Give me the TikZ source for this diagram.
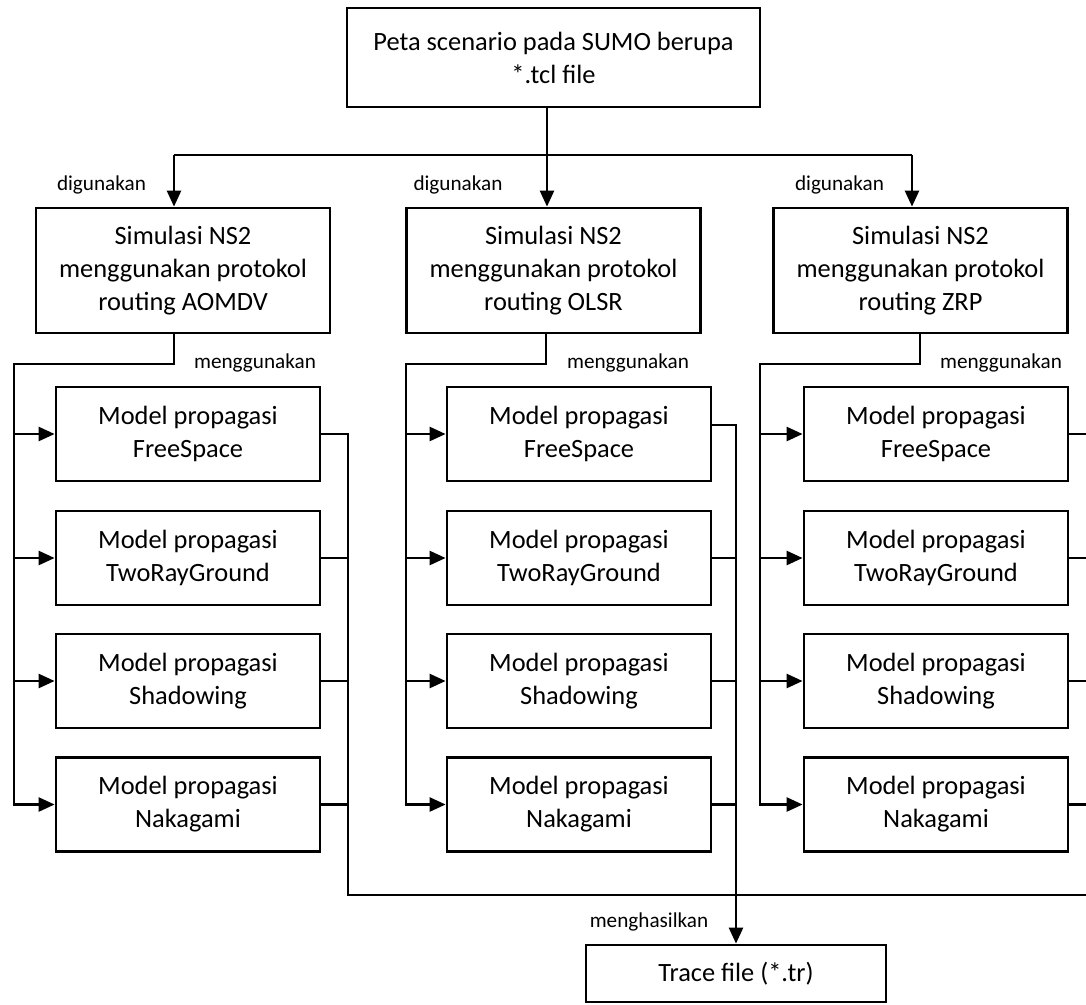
\documentclass[tikz,border=0pt]{standalone}
\usepackage{fontspec}
\setmainfont{Carlito}
\usetikzlibrary{arrows.meta}
\begin{document}
\begin{tikzpicture}[x=0.75pt,y=-0.75pt,
  box/.style={draw,line width=2.1pt,inner sep=0pt,align=center,
    font=\fontsize{19.8}{24.75}\selectfont},
  topbox/.style={box,minimum width=309.75pt,minimum height=74.25pt},
  simbox/.style={box,minimum width=220.5pt,minimum height=93.75pt},
  modbox/.style={box,minimum width=198pt,minimum height=70.5pt},
  tracebox/.style={box,minimum width=225pt,minimum height=42.75pt},
  lbl/.style={font=\fontsize{15.9}{19}\selectfont,inner sep=0pt},
  wire/.style={line width=1.9pt},
  arr/.style={wire,-{Triangle[length=12pt,width=10.5pt]}}
]
\useasboundingbox (0,0) rectangle (1086,1004);

% boxes
\node[topbox] (top) at (553.5,57.5) {Peta scenario pada SUMO berupa\\{}*.tcl file};
\node[simbox] (s1) at (183,270.5) {Simulasi NS2\\menggunakan protokol\\routing AOMDV};
\node[simbox] (s2) at (553.5,270.5) {Simulasi NS2\\menggunakan protokol\\routing OLSR};
\node[simbox] (s3) at (920.5,270.5) {Simulasi NS2\\menggunakan protokol\\routing ZRP};
\foreach \c/\x in {1/188,2/579,3/936}
  \foreach \r/\y/\t in {1/434/FreeSpace,2/558/TwoRayGround,3/681/Shadowing,4/804.5/Nakagami}
    \node[modbox] (m\c\r) at (\x,\y) {Model propagasi\\\t};
\node[tracebox] (tr) at (736,973.5) {Trace file (*.tr)};

% scenario to the three simulations
\coordinate (hL) at (174,155);
\coordinate (hM) at (547,155);
\coordinate (hR) at (912,155);
\draw[wire] (hL) -- (hR);
\draw[arr] (top.south -| hM) -- (hM |- s2.north);
\draw[arr] (hL) -- (hL |- s1.north);
\draw[arr] (hR) -- (hR |- s3.north);

% simulations to propagation models
\foreach \c/\ex/\bx in {1/174/14, 2/546/406, 3/920/760} {
  \coordinate (e\c) at (\ex,364);
  \coordinate (b\c) at (\bx,364);
  \draw[arr] (s\c.south -| e\c) -- (e\c) -- (b\c) -- (b\c |- m\c4.west) -- (m\c4.west);
  \foreach \r in {1,2,3}
    \draw[arr] (b\c |- m\c\r.west) -- (m\c\r.west);
}

% propagation models to the trace file
\coordinate (r1) at (348,895);
\coordinate (edge) at (1086,895);
\draw[wire] (m11.east) -- (m11.east -| r1) -- (r1) -- (edge);
\foreach \r in {2,3,4}
  \draw[wire] (m1\r.east) -- (m1\r.east -| r1);
\coordinate (r2) at (736,425);
\draw[arr] ([yshift=6.75pt]m21.east) -- (r2) -- (r2 |- tr.north);
\foreach \r in {2,3,4}
  \draw[wire] (m2\r.east) -- (m2\r.east -| r2);
\coordinate (r3) at (1090,0);
\foreach \r in {1,...,4}
  \draw[wire] (m3\r.east) -- (m3\r.east -| r3);

% labels
\node[lbl] (d1) at (101.5,185) {digunakan};
\node[lbl] (d2) at (458,185) {digunakan};
\node[lbl] (d3) at (839.5,185) {digunakan};
\node[lbl] (u1) at (255,363) {menggunakan};
\node[lbl] (u2) at (628,363) {menggunakan};
\node[lbl] (u3) at (1001,363) {menggunakan};
\node[lbl] (hs) at (649,922) {menghasilkan};
\end{tikzpicture}
\end{document}
